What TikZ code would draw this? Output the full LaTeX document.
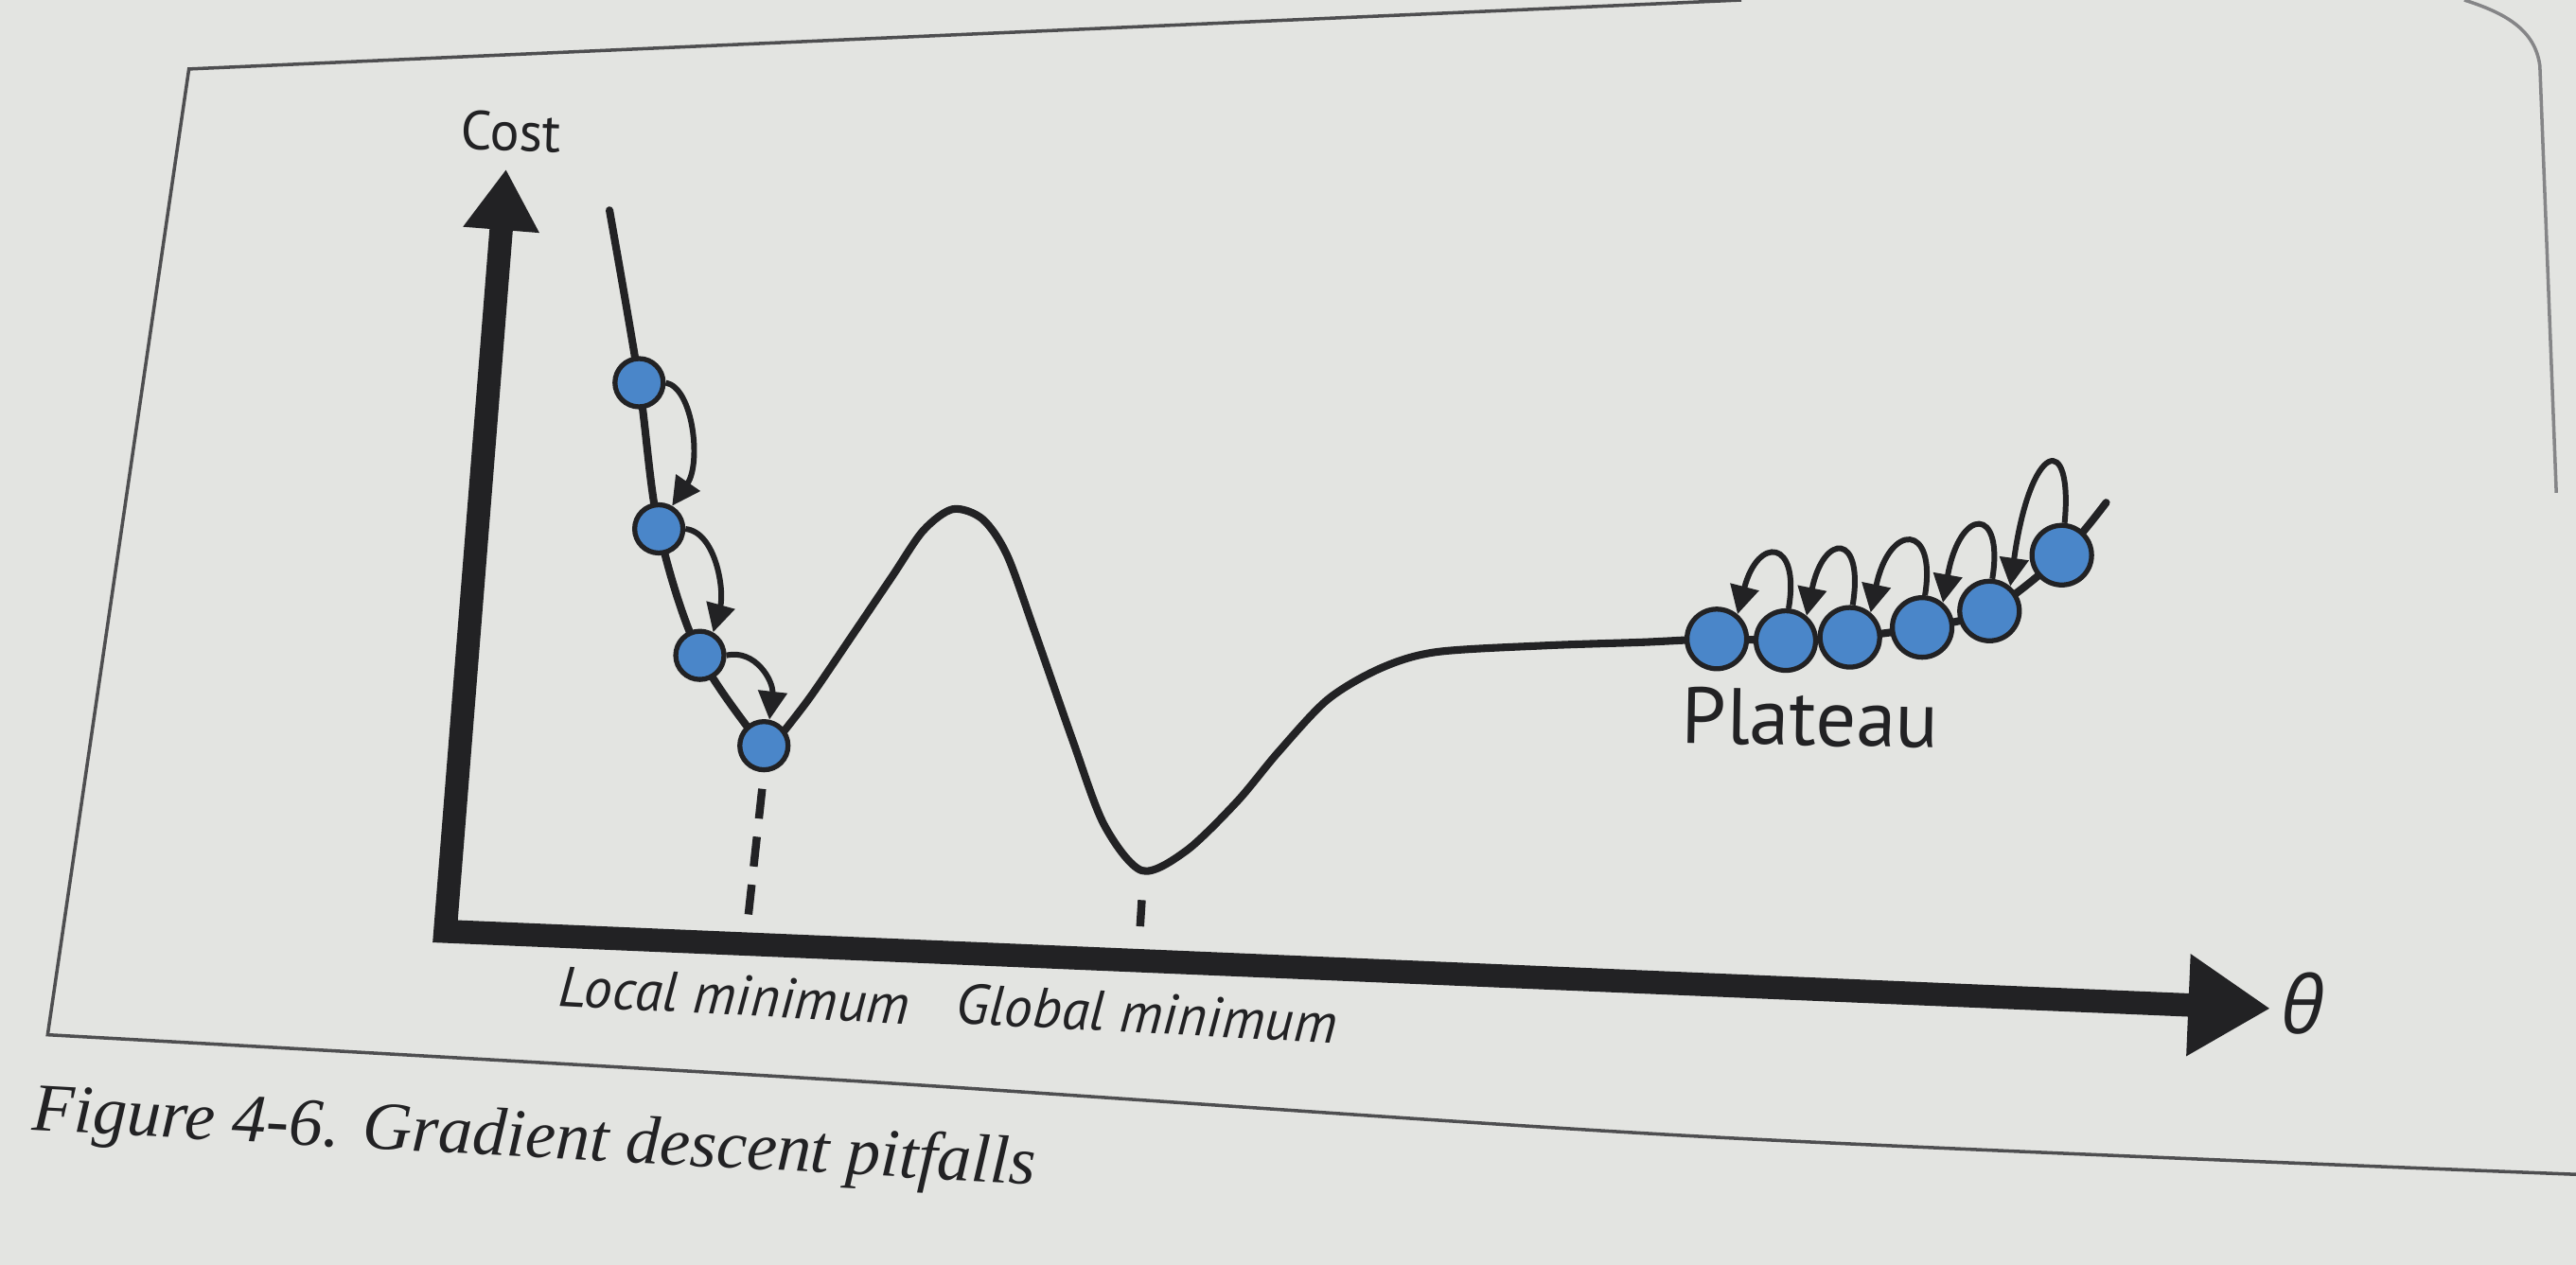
\documentclass[tikz,border=0pt]{standalone}
\usepackage{fontspec}
\setmainfont{Liberation Serif}
\setsansfont{PT Sans}
\newfontfamily\thetafont{Open Sans}
\usetikzlibrary{arrows.meta,positioning}
\definecolor{paper}{RGB}{227,228,225}
\definecolor{ink}{RGB}{34,34,36}
\definecolor{ballblue}{RGB}{74,134,201}

\begin{document}
\begin{tikzpicture}[
    x=0.01736cm, y=-0.01736cm,
    curve/.style={draw=ink, line width=2.3pt, line cap=round, line join=round},
    axis/.style={draw=ink, line width=7pt, line join=miter},
    ball/.style={circle, draw=ink, fill=ballblue, line width=1.5pt,
                 inner sep=0pt, minimum size=0.51cm},
    bigball/.style={ball, minimum size=0.63cm},
    hop/.style={-{Triangle[length=8.5pt, width=8.5pt]}, draw=ink, line width=1.7pt},
    tick/.style={draw=ink, line width=2.4pt},
    lbl/.style={text=ink, inner sep=0pt},
    frame/.style={draw=ink!80, line width=1pt}
  ]
    \fill[paper] (0,0) rectangle (1568,770);
    \useasboundingbox (0,0) rectangle (1568,770);

    % figure frame and caption
    \draw[frame] (1060,0) -- (518,24) -- (115,42) -- (29,630)
      -- plot[smooth] coordinates {(29,630) (518,658) (1037,692) (1568,715)};
    \draw[frame, draw=ink!55] (1500,0) .. controls (1525,8) and (1543,18) .. (1546,40) -- (1556,300);
    \node[lbl, anchor=base west, rotate=-3.1, font=\itshape\fontsize{20.5}{20.5}\selectfont]
      (caption) at (19,688) {Figure 4-6. Gradient descent pitfalls};

    % axes
    \coordinate (origin) at (271,567);
    \coordinate (ytip) at (308,103);
    \coordinate (xtip) at (1382,614);
    \draw[axis, {Triangle[length=18.3pt, width=21.7pt]}-{Triangle[length=24.7pt, width=29pt]}]
      (ytip) -- (origin) -- (xtip);
    \node[lbl, rotate=-2, font=\sffamily\fontsize{16.5}{16.5}\selectfont] (cost) at (311,80) {Cost};
    \node[lbl, font=\thetafont\itshape\fontsize{24}{24}\selectfont] (theta) at (1402,611) {θ};

    % cost curve
    \draw[curve] plot[smooth, tension=0.55] coordinates
      {(371,128) (389,233) (401,322) (426,399) (467,458)};
    \draw[curve] plot[smooth, tension=0.5] coordinates
      {(467,458) (492,426) (518,388) (543,351) (562,323) (580,310) (598,316)
       (613,338) (630,385) (653,451) (672,502) (695,530) (722,518) (753,488)
       (778,458) (808,426) (840,407) (874,397) (941,393) (1000,391) (1045,389)
       (1087,390) (1126,388) (1170,382) (1211,372) (1255,338) (1282,306)};

    % steps into the local minimum
    \node[ball] (l1) at (389,233) {};
    \node[ball] (l2) at (401,322) {};
    \node[ball] (l3) at (426,399) {};
    \node[ball] (l4) at (465,454) {};
    \draw[hop] (l1.east) .. controls (422,236) and (427,282) .. (l2.60);
    \draw[hop] (l2.east) .. controls (436,324) and (441,360) .. (l3.60);
    \draw[hop] (l3.east) .. controls (460,395) and (471,415) .. (l4.78);

    % steps on the plateau
    \node[bigball] (p1) at (1045,389) {};
    \node[bigball] (p2) at (1087,390) {};
    \node[bigball] (p3) at (1126,388) {};
    \node[bigball] (p4) at (1170,382) {};
    \node[bigball] (p5) at (1211,372) {};
    \node[bigball] (p6) at (1255,338) {};
    \draw[hop] (p2.85) .. controls (1096,328) and (1070,326) .. (p1.50);
    \draw[hop] (p3.85) .. controls (1135,324) and (1110,324) .. (p2.50);
    \draw[hop] (p4.85) .. controls (1179,318) and (1150,318) .. (p3.50);
    \draw[hop] (p5.85) .. controls (1220,308) and (1193,308) .. (p4.50);
    \draw[hop] (p6.85) .. controls (1262,262) and (1236,268) .. (p5.50);
    \node[lbl, rotate=-1, font=\sffamily\fontsize{24}{24}\selectfont] (plateau) at (1102,437) {Plateau};

    % minimum markers
    \coordinate (lmin) at (455,562);
    \coordinate (gtop) at (695,548);
    \coordinate (gbot) at (694,564);
    \draw[tick, dash pattern=on 9pt off 5.5pt, shorten <=5pt] (l4.south) -- (lmin);
    \draw[tick] (gtop) -- (gbot);
    \node[lbl, rotate=-3, font=\sffamily\itshape\fontsize{17}{17}\selectfont] (localmin) at (447,606) {Local minimum};
    \node[lbl, rotate=-3, font=\sffamily\itshape\fontsize{17}{17}\selectfont] (globalmin) at (698,617) {Global minimum};
  \end{tikzpicture}
\end{document}
